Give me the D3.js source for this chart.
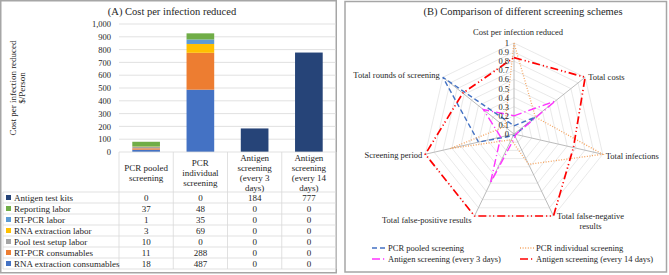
<!DOCTYPE html>
<html>
<head>
<meta charset="utf-8">
<script src="https://cdn.jsdelivr.net/npm/d3@7"></script>
<style>
  body { margin: 0; background: #fff; }
  svg text { font-family: "Liberation Serif", "Times New Roman", serif; fill: #262626; }
</style>
</head>
<body>
<div id="chart"></div>
<script>
// ---- data: panel A (stacked bars + data table) ----
var categories = ["PCR pooled screening", "PCR individual screening",
  "Antigen screening (every 3 days)", "Antigen screening (every 14 days)"];
var categoryLines = [["PCR pooled", "screening"], ["PCR", "individual", "screening"],
  ["Antigen", "screening", "(every 3", "days)"], ["Antigen", "screening", "(every 14", "days)"]];
// stack order, bottom to top
var costNames = ["RNA extraction consumables", "RT-PCR consumables", "Pool test setup labor",
  "RNA extraction labor", "RT-PCR labor", "Reporting labor", "Antigen test kits"];
var rnaConsumables = [18, 487, 0, 0];
var rtpcrConsumables = [11, 288, 0, 0];
var poolSetupLabor = [10, 0, 0, 0];
var rnaLabor = [3, 69, 0, 0];
var rtpcrLabor = [1, 35, 0, 0];
var reportingLabor = [37, 48, 0, 0];
var antigenKits = [0, 0, 184, 777];
var costColors = ["#4472C4", "#ED7D31", "#A5A5A5", "#FFC000", "#5B9BD5", "#70AD47", "#264478"];
var yTicks = [0, 100, 200, 300, 400, 500, 600, 700, 800, 900, 1000];

// ---- data: panel B (radar) ----
var radarAxes = ["Cost per infection reduced", "Total costs", "Total infections",
  "Total false-negative results", "Total false-positive results", "Screening period",
  "Total rounds of screening"];
var schemes = ["PCR pooled screening", "PCR individual screening",
  "Antigen screening (every 3 days)", "Antigen screening (every 14 days)"];
var pcrPooled = [0.09, 0.3, 0.02, 0.02, 0.02, 0.4, 1];
var pcrIndividual = [1, 0.3, 1, 0.37, 0.07, 0.72, 0.13];
var antigen3 = [0.2, 0.58, 0.02, 0.03, 0.6, 0.15, 0.43];
var antigen14 = [0.84, 1, 0.67, 1, 1, 1, 0.72];
var radarTicks = [0, 0.1, 0.2, 0.3, 0.4, 0.5, 0.6, 0.7, 0.8, 0.9, 1];

var costValues = [rnaConsumables, rtpcrConsumables, poolSetupLabor, rnaLabor, rtpcrLabor, reportingLabor, antigenKits];

var svg = d3.select("#chart").append("svg")
  .attr("width", 669).attr("height", 275);

// panel frames
svg.append("rect").attr("x", 0.75).attr("y", 0.75).attr("width", 335.5).attr("height", 272)
  .attr("fill", "none").attr("stroke", "#a6a6a6").attr("stroke-width", 1.5);
svg.append("rect").attr("x", 345).attr("y", 1.5).attr("width", 321.5).attr("height", 270.5)
  .attr("fill", "none").attr("stroke", "#a6a6a6").attr("stroke-width", 1.5);

// ================= Panel A =================
var gA = svg.append("g");
gA.append("text").attr("x", 172).attr("y", 15).attr("text-anchor", "middle")
  .style("font-size", "10.5px").text("(A) Cost per infection reduced");

var x = d3.scaleBand().domain(categories).range([119, 336]).paddingInner(0.49).paddingOuter(0.245);
var y = d3.scaleLinear().domain([0, 1000]).range([152, 24]);

// gridlines
gA.selectAll(".grid").data(yTicks.slice(1)).enter().append("line")
  .attr("x1", 119).attr("x2", 336)
  .attr("y1", function(d) { return y(d); }).attr("y2", function(d) { return y(d); })
  .attr("stroke", "#d9d9d9").attr("stroke-width", 0.8);

var yAxis = gA.append("g").attr("transform", "translate(119,0)")
  .call(d3.axisLeft(y).tickValues(yTicks).tickSize(0).tickPadding(8));
yAxis.select(".domain").remove();
yAxis.selectAll("text").style("font-size", "8.5px").style("font-family", "Liberation Serif, serif").attr("fill", "#404040");

// axis title
var yt = gA.append("text").attr("transform", "translate(16,88) rotate(-90)")
  .attr("text-anchor", "middle").style("font-size", "9px");
yt.append("tspan").attr("x", 0).attr("dy", 0).text("Cost per infection reduced");
yt.append("tspan").attr("x", 0).attr("dy", 9).text("$/Person");

// stacked bars
var rows = categories.map(function(c, i) {
  var r = { cat: c };
  costNames.forEach(function(n, k) { r[n] = costValues[k][i]; });
  return r;
});
var stack = d3.stack().keys(costNames)(rows);
gA.selectAll(".layer").data(stack).enter().append("g")
  .attr("fill", function(d, k) { return costColors[k]; })
  .selectAll("rect").data(function(d) { return d; }).enter().append("rect")
  .attr("x", function(d) { return x(d.data.cat); })
  .attr("width", x.bandwidth())
  .attr("y", function(d) { return y(d[1]); })
  .attr("height", function(d) { return y(d[0]) - y(d[1]); });

// data table
var tableTop = 152, headerBottom = 192, rowH = 11;
var tableBottom = headerBottom + rowH * costNames.length;
var colEdges = [119, 173.25, 227.5, 281.75, 336];
var grid = gA.append("g").attr("stroke", "#d9d9d9").attr("stroke-width", 0.8);
colEdges.forEach(function(cx) {
  grid.append("line").attr("x1", cx).attr("x2", cx).attr("y1", tableTop).attr("y2", tableBottom);
});
grid.append("line").attr("x1", 3).attr("x2", 3).attr("y1", headerBottom).attr("y2", tableBottom);
d3.range(costNames.length + 1).forEach(function(k) {
  var yy = headerBottom + k * rowH;
  grid.append("line").attr("x1", 3).attr("x2", 336).attr("y1", yy).attr("y2", yy);
});
gA.append("line").attr("x1", 119).attr("x2", 336).attr("y1", 152).attr("y2", 152)
  .attr("stroke", "#d9d9d9").attr("stroke-width", 0.8);

// header labels
categoryLines.forEach(function(lines, i) {
  var cx = x(categories[i]) + x.bandwidth() / 2;
  var y0 = 173 - (lines.length - 1) * 10 / 2 + 3;
  lines.forEach(function(t, j) {
    gA.append("text").attr("x", cx).attr("y", y0 + j * 10)
      .attr("text-anchor", "middle").style("font-size", "9px").text(t);
  });
});

// rows (legend order is reversed stack order)
var legendOrder = d3.range(costNames.length).reverse();
legendOrder.forEach(function(k, r) {
  var cy = headerBottom + r * rowH + rowH / 2;
  gA.append("rect").attr("x", 6).attr("y", cy - 2.5).attr("width", 5).attr("height", 5)
    .attr("fill", costColors[k]);
  gA.append("text").attr("x", 14).attr("y", cy + 3).style("font-size", "9px").text(costNames[k]);
  costValues[k].forEach(function(v, i) {
    gA.append("text").attr("x", x(categories[i]) + x.bandwidth() / 2).attr("y", cy + 3)
      .attr("text-anchor", "middle").style("font-size", "9px").text(v);
  });
});

// ================= Panel B =================
var gB = svg.append("g");
gB.append("text").attr("x", 523).attr("y", 15).attr("text-anchor", "middle")
  .style("font-size", "10.5px").text("(B) Comparison of different screening schemes");

var cx = 514, cy = 134, R = 91;
var rScale = d3.scaleLinear().domain([0, 1]).range([0, R]);
var angle = d3.scalePoint().domain(d3.range(radarAxes.length + 1)).range([0, 2 * Math.PI]);
function pt(i, v) {
  var a = angle(i % radarAxes.length);
  return [cx + rScale(v) * Math.sin(a), cy - rScale(v) * Math.cos(a)];
}

// grid polygons
radarTicks.slice(1).forEach(function(t) {
  gB.append("path")
    .attr("d", d3.line()(radarAxes.map(function(a, i) { return pt(i, t); })) + "Z")
    .attr("fill", "none").attr("stroke", "#e3e3e3").attr("stroke-width", 0.8);
});
// spokes
radarAxes.forEach(function(a, i) {
  var p = pt(i, 1);
  gB.append("line").attr("x1", cx).attr("y1", cy).attr("x2", p[0]).attr("y2", p[1])
    .attr("stroke", "#b3b3b3").attr("stroke-width", 0.9);
});

// series
var radarSeries = [
  { name: schemes[0], values: pcrPooled, color: "#4472C4", dash: "5,3", w: 1.4 },
  { name: schemes[1], values: pcrIndividual, color: "#F4A460", dash: "1,1.6", w: 1.3 },
  { name: schemes[2], values: antigen3, color: "#FF33FF", dash: "8,3,1.2,3", w: 1.4 },
  { name: schemes[3], values: antigen14, color: "#FF0000", dash: "8,3,1.2,2.5,1.2,3", w: 1.7 }
];
radarSeries.forEach(function(s) {
  gB.append("path")
    .attr("d", d3.line()(s.values.map(function(v, i) { return pt(i, v); })) + "Z")
    .attr("fill", "none").attr("stroke", s.color).attr("stroke-width", s.w)
    .attr("stroke-dasharray", s.dash);
});

// tick labels along first axis
radarTicks.forEach(function(t) {
  gB.append("text").attr("x", cx - 5).attr("y", cy - rScale(t) + 3)
    .attr("text-anchor", "end").style("font-size", "8.5px").attr("fill", "#404040").text(t);
});

// axis labels
var labelPos = [
  { dx: 4, dy: -11, anchor: "middle", lines: ["Cost per infection reduced"] },
  { dx: 3, dy: 0, anchor: "start", lines: ["Total costs"] },
  { dx: 3, dy: 2, anchor: "start", lines: ["Total infections"] },
  { dx: 37, dy: 0, anchor: "middle", lines: ["Total false-negative", "results"] },
  { dx: -3, dy: 4, anchor: "end", lines: ["Total false-positive results"] },
  { dx: -3, dy: 1, anchor: "end", lines: ["Screening period"] },
  { dx: -3, dy: -2, anchor: "end", lines: ["Total rounds of screening"] }
];
radarAxes.forEach(function(a, i) {
  var p = pt(i, 1), lp = labelPos[i];
  lp.lines.forEach(function(t, j) {
    gB.append("text").attr("x", p[0] + lp.dx).attr("y", p[1] + lp.dy + 3 + j * 10)
      .attr("text-anchor", lp.anchor).style("font-size", "8.5px").text(t);
  });
});

// legend
var legPos = [[372, 248], [520, 248], [372, 259], [520, 259]];
radarSeries.forEach(function(s, k) {
  var lx = legPos[k][0], ly = legPos[k][1];
  gB.append("line").attr("x1", lx).attr("x2", lx + 14).attr("y1", ly).attr("y2", ly)
    .attr("stroke", s.color).attr("stroke-width", s.w).attr("stroke-dasharray", s.dash);
  gB.append("text").attr("x", lx + 16).attr("y", ly + 3).style("font-size", "8.5px").text(s.name);
});
</script>
</body>
</html>
